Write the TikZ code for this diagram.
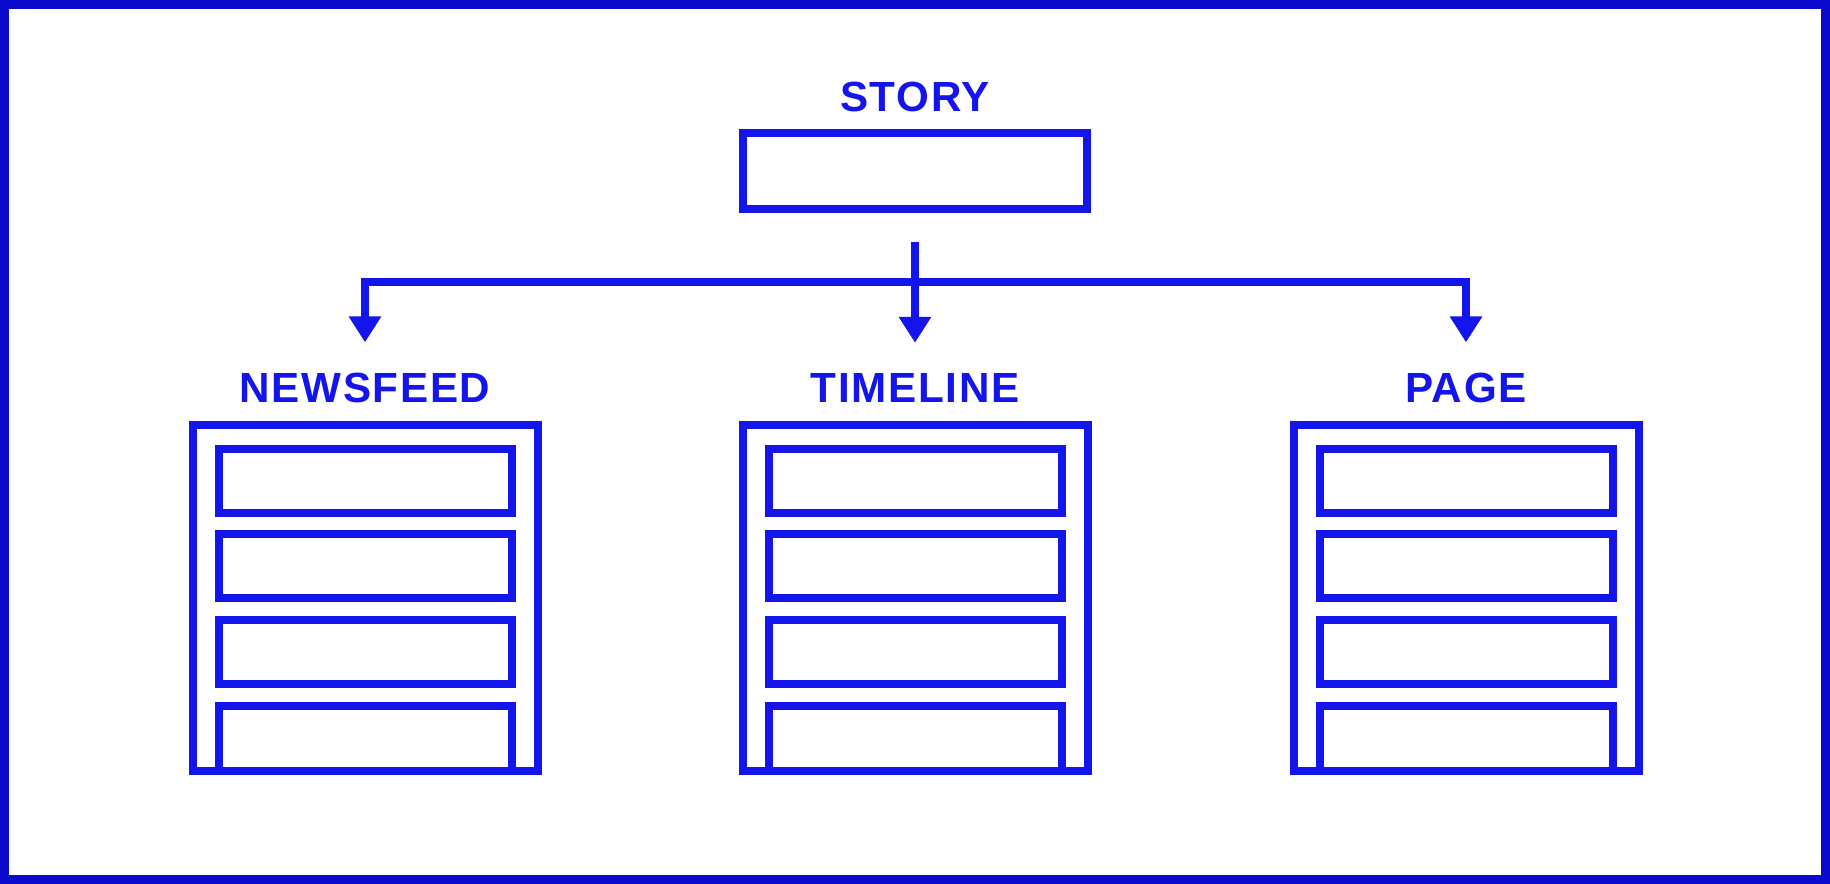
\documentclass[tikz,border=0pt]{standalone}
\usepackage{fontspec}
\setmainfont{Liberation Sans}
\usetikzlibrary{arrows.meta, positioning}
\definecolor{Ink}{HTML}{1414EC}
\definecolor{Rim}{HTML}{0A0ACC}

\begin{document}
\begin{tikzpicture}[
  box/.style={rectangle, draw=Ink, line width=0.08cm, fill=white, inner sep=0pt},
  head/.style={text=Ink, inner sep=0pt,
     font=\fontsize{12}{12}\selectfont\bfseries\addfontfeature{LetterSpace=4}},
  link/.style={draw=Ink, line width=0.08cm},
  arr/.style={link, -{Triangle[width=0.31cm, length=0.26cm]}}]
  % page and frame
  \fill[white] (0,0) rectangle (18.3,8.84);
  \draw[Rim, line width=0.09cm] (0.045,0.045) rectangle (18.255,8.795);
  % story on top
  \node[head] (lstory) at (9.15,7.87) {STORY};
  \node[box, minimum width=3.44cm, minimum height=0.76cm] (story) at (9.15,7.13) {};
  \coordinate (hub) at (9.15,6.02);
  % the three views, each a stack of four rows
  \foreach \n/\x/\t in {nf/3.65/NEWSFEED, tl/9.15/TIMELINE, pg/14.66/PAGE}{
    \node[head] (l\n) at (\x,4.96) {\t};
    \node[box, minimum width=3.45cm, minimum height=3.46cm] (\n) at (\x,2.86) {};
    \foreach \dy in {1.17,0.315,-0.54}
      \draw[link] ([shift={(-1.465,\dy-0.32)}]\n.center) rectangle ++(2.93,0.64);
    \draw[link] ([shift={(-1.465,-1.73)}]\n.center) |- ++(2.93,0.65) -- ++(0,-0.65);}
  % connectors
  \draw[arr, shorten <=0.29cm, shorten >=0.3cm] (story.south) -- (ltl.north);
  \draw[arr, shorten >=0.3cm] (hub) -| (lnf.north);
  \draw[arr, shorten >=0.3cm] (hub) -| (lpg.north);
\end{tikzpicture}
\end{document}
